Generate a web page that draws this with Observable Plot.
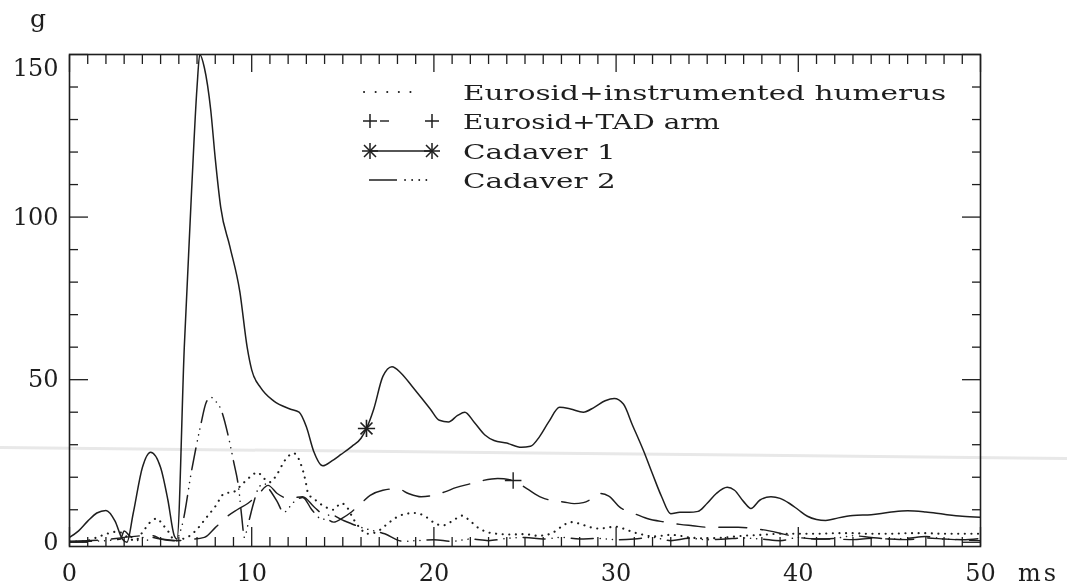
<!DOCTYPE html>
<html><head><meta charset="utf-8">
<script src="https://cdn.jsdelivr.net/npm/d3@7"></script>
<script src="https://cdn.jsdelivr.net/npm/@observablehq/plot@0.6"></script>
<style>
html,body{margin:0;padding:0;background:#fff;}
#wrap{position:relative;width:1067px;height:586px;overflow:hidden;background:#fff;}
#chart{position:absolute;left:0;top:0;}
#overlay{position:absolute;left:0;top:0;}
#scan{position:absolute;left:0;top:446px;width:1080px;height:3px;background:#e8e8e8;transform-origin:0 0;transform:rotate(0.59deg);mix-blend-mode:multiply;pointer-events:none;}
</style></head><body>
<div id="wrap"><div id="chart"></div><svg id="overlay" width="1067" height="586"></svg><div id="scan"></div></div>
<script>
// ---- data (time in ms, acceleration in g) ----
const legendLabels = ["Eurosid+instrumented humerus", "Eurosid+TAD arm", "Cadaver 1", "Cadaver 2"];
const xTickValues = [0, 10, 20, 30, 40, 50];
const yTickValues = [0, 50, 100, 150];
const xMinorTicks = d3.range(0, 51, 1);
const yMinorTicks = d3.range(0, 151, 10);

const humT = [0,0.5,1,1.5,2,2.5,2.8,3.2,3.6,4.0,4.4,4.8,5.1,5.4,5.8,6.2,6.6,7.0,7.5,8.0,8.5,9.0,9.5,10.0,10.3,10.7,11.0,11.4,11.8,12.3,12.7,12.95,13.1,13.5,14.0,14.5,14.9,15.2,15.6,16.0,16.3,16.8,17.3,17.9,18.5,19.0,19.6,20.1,20.5,21.0,21.55,22.0,22.4,23.0,23.5,24.2,25.0,25.7,26.4,26.95,27.5,28.0,28.6,29.1,29.6,30.0,30.5,31.0,31.5,32.0,32.5,33,33.5,34,35,36,37,38,39,40,41,42,43,44,45,46,47,48,49,50];
const humV = [0.3,0.2,0.5,1.5,2.5,3.2,3,1.5,0.5,3,6,7.3,5.5,3.5,0.5,1,2,4,7.5,11,15,15.5,18,20.5,21.5,19.5,18.5,21,25,27.4,24,19,15,13,11,10,12,11,7,4,2.6,3,5,7.5,8.8,9,7.7,5.7,5.2,6.5,8.2,6.5,4.6,3,2.6,2.4,2.5,2,2.6,4.6,6.2,5.7,4.6,4.2,4.6,4.8,4,3,2.3,1.8,2,2.3,2,1.5,1.2,1.5,2,2.3,2.6,2.6,2.6,2.8,2.8,2.6,2.6,2.8,2.8,2.6,2.6,2.6];

const tadT = [0,1,2,3,4,5,5.9,6.5,7.4,8.0,8.6,9.2,9.8,10.4,10.9,11.4,12.0,12.8,13.4,14.0,14.5,15.0,15.4,16.0,16.5,17.2,18.0,18.6,19.3,20.0,20.6,21.2,22.0,22.7,23.5,24.35,25.1,25.9,26.5,27.1,27.7,28.2,28.7,29.1,29.6,30.2,31.0,31.7,32.7,33.5,34.2,35.1,36.0,36.7,37.6,38.4,39.2,40,41,42,43,44,45,46,47,48,49,50];
const tadV = [0.3,0.5,0.8,1.5,2,1,0.5,0.8,1.5,4.5,7.7,10,12,15,17.5,15,13.5,14,11,8,6.2,7.5,9,12,14.4,16,16.5,15,14,14.5,15.5,16.8,18,19,19.6,19,16.5,13.8,12.8,12.4,11.9,12.2,13.5,15,14.2,10.8,8.8,7.3,6.2,5.5,5.1,4.6,4.6,4.6,4.2,3.5,2.5,1.5,1,1,0.8,1.2,1,0.8,1.3,1,0.7,0.5];
const tadMarkT = [24.35];
const tadMarkV = [19];

const cad1T = [0,0.5,1,1.5,2,2.5,2.9,3.15,3.5,4,4.45,5,5.4,5.75,5.9,6.3,6.7,7.0,7.15,7.4,7.75,8.0,8.3,8.8,9.35,9.75,10.0,10.5,11.2,12.1,12.6,13,13.4,13.9,14.4,14.9,15.5,16,16.3,16.7,17.2,17.7,18.2,18.8,19.3,19.8,20.3,20.8,21.3,21.7,22.2,22.8,23.3,24,24.8,25.3,25.8,26.3,26.9,27.5,28.2,28.8,29.4,29.9,30.4,30.9,31.5,32,32.5,33,33.5,34,34.5,35,35.5,36.1,36.5,37,37.4,37.9,38.5,39,39.5,40,40.5,41,41.5,42.2,43,44,45,46,47,48,49,50];
const cad1V = [1.5,3.5,6.5,9,9.8,6.5,1,0,9,23,27.7,23,13,2,1,60,108,140,150,146,133,118,103,91,77,60,53,47.5,43.5,41,40,35.5,28,23.5,25,27,29.5,32,35,41,51,54,52,48,44.5,41,37.5,37,39,40,37,33,31.3,30.5,29.2,29.5,32.5,37,41.5,41,40,41.5,43.5,44.2,42.5,36,28.2,21,14,8.8,9.2,9.2,9.5,12,15,16.9,16,12.5,10.4,13,14,13.5,12,10,8,7,6.7,7.5,8.2,8.5,9.2,9.7,9.3,8.6,8,7.7];
const cad1MarkT = [16.3];
const cad1MarkV = [35];

const cad2T = [0,1,2,2.8,3.0,3.3,3.7,4.0,4.2,4.6,5.0,5.8,6.2,6.7,7.2,7.5,7.75,8.0,8.3,8.7,9.0,9.3,9.45,9.6,9.8,10.1,10.4,10.7,11.0,11.4,11.75,12.3,12.8,13.3,13.9,14.3,15.0,16.0,17.3,18.3,19,20,21,22,23,24,25,26,27,28,29,30,31,32,33,34,35,36,37,38,39,40,41,42,43,44,45,46,47,48,49,50];
const cad2V = [0,0.3,0.5,1,3.5,2,0.5,1.5,0.5,2,1,0.5,5.7,22,36,43,44.6,43.5,41,33,25,16,8,1.5,5.5,12,17,18,16,12.5,9.2,12.3,13.8,10,7,8.5,6.8,4.6,2.6,0.3,0.5,0.8,0.3,1,0.5,1.2,1.5,1,1.5,1,1.2,0.8,1,1.5,0.5,1.2,0.8,1,1.3,1,0.5,1.5,1,1.2,2,1.5,1,1.2,1.8,1,0.8,1.2];

function rows(T, V) {
  if (T.length !== V.length) throw new Error("length mismatch " + T.length + " vs " + V.length);
  return T.map((t, i) => ({t, v: V[i]}));
}

const ink = "#1e1e1e";
const font = "DejaVu Serif";
const minorOnly = (arr, step) => arr.filter(d => d % step !== 0);

const chart = Plot.plot({
  width: 1067, height: 586,
  marginLeft: 69, marginRight: 87, marginTop: 54, marginBottom: 40,
  x: {domain: [0, 50]},
  y: {domain: [-1.3, 150]},
  style: {fontFamily: font, color: ink, background: "transparent"},
  marks: [
    // series
    Plot.line(rows(humT, humV), {x: "t", y: "v", curve: "monotone-x", stroke: ink, strokeWidth: 2.1, strokeDasharray: "0.1,6.5", strokeLinecap: "round", clip: true}),
    Plot.line(rows(tadT, tadV), {x: "t", y: "v", curve: "monotone-x", stroke: ink, strokeWidth: 1.4, strokeDasharray: "28,14", clip: true}),
    Plot.line(rows(cad2T, cad2V), {x: "t", y: "v", curve: "monotone-x", stroke: ink, strokeWidth: 1.5, strokeDasharray: "22,7,0.1,6,0.1,6,0.1,7", strokeLinecap: "round", clip: true}),
    Plot.line(rows(cad1T, cad1V), {x: "t", y: "v", curve: "monotone-x", stroke: ink, strokeWidth: 1.5, clip: true}),
    Plot.dot(rows(cad1MarkT, cad1MarkV), {x: "t", y: "v", symbol: "plus", r: 5.6, stroke: ink, strokeWidth: 1.6}),
    Plot.dot(rows(cad1MarkT, cad1MarkV), {x: "t", y: "v", symbol: "times", r: 5.5, stroke: ink, strokeWidth: 1.6}),
    Plot.dot(rows(tadMarkT, tadMarkV), {x: "t", y: "v", symbol: "plus", r: 5.4, stroke: ink, strokeWidth: 1.4}),
    // frame and inward ticks
    Plot.frame({stroke: ink, strokeWidth: 1.6}),
    Plot.axisX(minorOnly(xMinorTicks, 10), {anchor: "bottom", tickSize: -9, tickFormat: () => "", label: null, stroke: ink, strokeWidth: 1.3}),
    Plot.axisX(xTickValues, {anchor: "bottom", tickSize: -19, tickFormat: () => "", label: null, stroke: ink, strokeWidth: 1.3}),
    Plot.axisX(minorOnly(xMinorTicks, 10), {anchor: "top", tickSize: -9, tickFormat: () => "", label: null, stroke: ink, strokeWidth: 1.3}),
    Plot.axisX(xTickValues, {anchor: "top", tickSize: -17, tickFormat: () => "", label: null, stroke: ink, strokeWidth: 1.3}),
    Plot.axisY(minorOnly(yMinorTicks, 50), {anchor: "left", tickSize: -9, tickFormat: () => "", label: null, stroke: ink, strokeWidth: 1.3}),
    Plot.axisY(yTickValues, {anchor: "left", tickSize: -19, tickFormat: () => "", label: null, stroke: ink, strokeWidth: 1.3}),
    Plot.axisY(minorOnly(yMinorTicks, 50), {anchor: "right", tickSize: -9, tickFormat: () => "", label: null, stroke: ink, strokeWidth: 1.3}),
    Plot.axisY(yTickValues, {anchor: "right", tickSize: -19, tickFormat: () => "", label: null, stroke: ink, strokeWidth: 1.3}),
    // tick labels
    Plot.axisX(xTickValues, {anchor: "bottom", tickSize: 0, tickPadding: 17, label: null, fontSize: 24, fontFamily: font, fill: ink}),
    Plot.axisY(yTickValues.filter(d => d < 150), {anchor: "left", tickSize: 0, tickPadding: 11, label: null, fontSize: 24, fontFamily: font, fill: ink}),
    Plot.axisY(yTickValues.filter(d => d === 150), {anchor: "left", tickSize: 0, tickPadding: 11, dy: 14, label: null, fontSize: 24, fontFamily: font, fill: ink})
  ]
});
document.getElementById("chart").appendChild(chart);

// ---- legend and unit labels (overlay) ----
const ov = d3.select("#overlay");
ov.append("text").attr("x", 30).attr("y", 27).attr("font-family", font).attr("font-size", 25).attr("fill", ink).text("g");
ov.append("text").attr("x", 1018).attr("y", 581).attr("font-family", font).attr("font-size", 24).attr("letter-spacing", 3).attr("fill", ink).text("ms");

const rowY = [92, 121, 151, 180];
const textX = 463;
const lg = ov.append("g").attr("stroke", ink).attr("fill", "none");
function plus(g, cx, cy, a) { g.append("path").attr("d", `M${cx - a},${cy}H${cx + a}M${cx},${cy - a}V${cy + a}`).attr("stroke-width", 1.5); }
function star(g, cx, cy) { plus(g, cx, cy, 8); g.append("path").attr("d", `M${cx - 6},${cy - 6}L${cx + 6},${cy + 6}M${cx - 6},${cy + 6}L${cx + 6},${cy - 6}`).attr("stroke-width", 1.5); }
// row 1: dotted
lg.append("line").attr("x1", 364).attr("x2", 422).attr("y1", rowY[0]).attr("y2", rowY[0]).attr("stroke-width", 2).attr("stroke-linecap", "round").attr("stroke-dasharray", "0.1,11.5");
// row 2: plus, dash, plus
plus(lg, 370, rowY[1], 7);
lg.append("line").attr("x1", 380).attr("x2", 389).attr("y1", rowY[1]).attr("y2", rowY[1]).attr("stroke-width", 1.4);
plus(lg, 432, rowY[1], 7);
// row 3: asterisk - solid - asterisk
lg.append("line").attr("x1", 370).attr("x2", 432).attr("y1", rowY[2]).attr("y2", rowY[2]).attr("stroke-width", 1.5);
star(lg, 370, rowY[2]);
star(lg, 432, rowY[2]);
// row 4: dash dot dot dot
lg.append("line").attr("x1", 369).attr("x2", 397).attr("y1", rowY[3]).attr("y2", rowY[3]).attr("stroke-width", 1.5);
lg.append("line").attr("x1", 405).attr("x2", 428).attr("y1", rowY[3]).attr("y2", rowY[3]).attr("stroke-width", 1.8).attr("stroke-linecap", "round").attr("stroke-dasharray", "0.1,7");

legendLabels.forEach((s, i) => {
  ov.append("text")
    .attr("x", textX).attr("y", rowY[i] + 7.5)
    .attr("font-family", font).attr("font-size", 20.5).attr("fill", ink)
    .attr("textLength", s.length * 17.4 - 4).attr("lengthAdjust", "spacingAndGlyphs")
    .text(s);
});
</script>
</body></html>
